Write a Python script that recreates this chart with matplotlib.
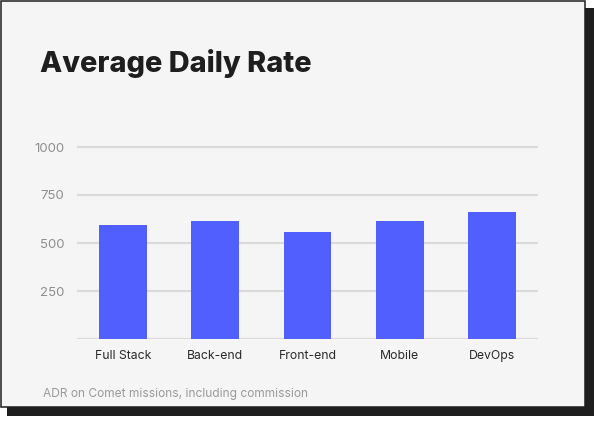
import matplotlib
matplotlib.use('Agg')
import matplotlib.pyplot as plt
from matplotlib.patches import Rectangle

plt.rcParams['font.family'] = ['Inter', 'DejaVu Sans']

roles = ['Full Stack', 'Back-end', 'Front-end', 'Mobile', 'DevOps']
adr = [594, 614, 557, 615, 661]
yticks = [250, 500, 750, 1000]

W, H = 594, 429
fig = plt.figure(figsize=(W / 100, H / 100), dpi=100)
fig.patch.set_facecolor('white')

# shadow + card
fig.add_artist(Rectangle((7 / W, 1 - 416 / H), (594 - 7) / W, (416 - 8) / H,
                         transform=fig.transFigure, facecolor='#1e1e1e',
                         edgecolor='none', zorder=0))
fig.add_artist(Rectangle((0.6 / W, 1 - 406.5 / H), 584 / W, 406 / H,
                         transform=fig.transFigure, facecolor='#f5f5f5',
                         edgecolor='#1e1e1e', linewidth=1.1, zorder=1))

left, right, bottom = 77, 538, 339
ymax = 1020
top = bottom - ymax * 0.192
ax = fig.add_axes([left / W, 1 - bottom / H, (right - left) / W, (bottom - top) / H])
ax.set_zorder(2)
ax.patch.set_visible(False)

x = range(len(roles))
ax.bar(x, adr, width=0.52, color='#525fff', zorder=3)
ax.set_xlim(-0.5, len(roles) - 0.5)
ax.set_ylim(0, ymax)

ax.set_yticks([0] + yticks)
ax.set_yticklabels([''] + [str(v) for v in yticks])
ax.yaxis.grid(True, color='#dadada', linewidth=1.5, zorder=1)
ax.set_axisbelow(True)
for s in ax.spines.values():
    s.set_visible(False)
ax.tick_params(axis='y', length=0, pad=9, labelsize=9.5, labelcolor='#8e8e8e')
ax.set_xticks(list(x))
ax.set_xticklabels(roles)
ax.tick_params(axis='x', length=0, pad=8, labelsize=8.8, labelcolor='#2a2a2a')

fig.text(40 / W, 1 - 72 / H, 'Average Daily Rate', fontsize=20.8, fontweight='heavy',
         color='#1e1e1e', ha='left', va='baseline', zorder=3)
fig.text(43 / W, 1 - 397 / H, 'ADR on Comet missions, including commission',
         fontsize=8.6, color='#9a9a9a', ha='left', va='baseline', zorder=3)

fig.savefig('out.png', dpi=100)
